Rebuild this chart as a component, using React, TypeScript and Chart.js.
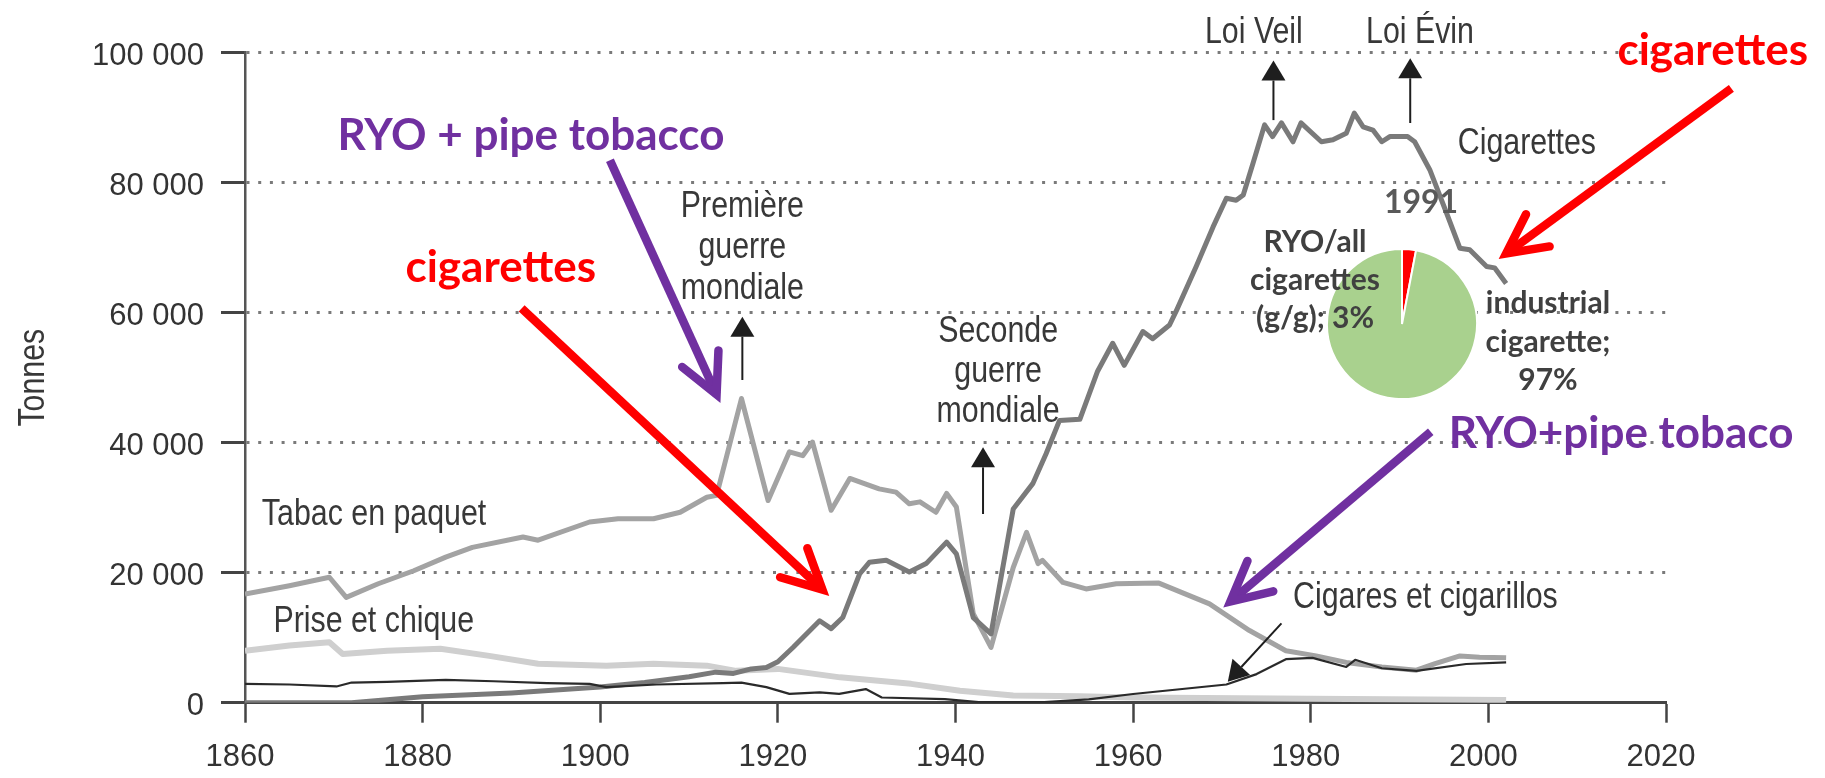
import React, { useEffect, useRef } from 'react';
import { Chart, registerables } from 'chart.js';

Chart.register(...registerables);

// ---------------- data ----------------
const xTickValues = [1860, 1880, 1900, 1920, 1940, 1960, 1980, 2000, 2020];
const xTickLabels = ['1860', '1880', '1900', '1920', '1940', '1960', '1980', '2000', '2020'];
const yTickValues = [0, 20000, 40000, 60000, 80000, 100000];
const yTickLabels = ['0', '20 000', '40 000', '60 000', '80 000', '100 000'];

const cigaretteYears = [1860, 1872, 1880, 1890, 1900, 1905, 1910, 1913, 1915, 1917, 1918.7, 1920, 1921.7, 1924.7, 1926, 1927.3, 1929.2, 1930.3, 1932.2, 1934.8, 1936.7, 1939, 1940.1, 1942, 1944, 1946.5, 1948.7, 1950.2, 1951.7, 1954, 1956, 1957.7, 1959, 1961.1, 1962.2, 1964.1, 1964.9, 1967.1, 1969, 1970.5, 1971.6, 1972.4, 1973.5, 1974.8, 1975.7, 1976.7, 1978, 1978.9, 1981.2, 1982.5, 1984, 1984.9, 1985.9, 1987, 1988, 1988.9, 1990.9, 1991.7, 1993.4, 1995.3, 1996.8, 1997.9, 1999.8, 2000.7, 2002];
const cigaretteTonnes = [0, 0, 900, 1500, 2400, 3100, 4000, 4700, 4500, 5200, 5400, 6300, 8500, 12600, 11400, 13100, 19800, 21600, 21900, 20100, 21400, 24700, 22900, 13100, 10600, 29800, 33700, 38300, 43400, 43600, 51000, 55300, 51900, 57100, 56000, 58100, 60400, 67100, 73200, 77600, 77300, 78100, 83000, 88900, 87100, 89200, 86300, 89200, 86300, 86600, 87600, 90700, 88600, 88100, 86300, 87100, 87100, 86300, 82000, 75300, 69900, 69700, 67100, 66900, 64500];

const tabacYears = [1860, 1865, 1869.5, 1871.4, 1875, 1879, 1882.6, 1885.6, 1891.3, 1893, 1898.8, 1902, 1906, 1909, 1912, 1913.1, 1915.9, 1918.9, 1921.3, 1922.8, 1923.9, 1926, 1928.1, 1931.4, 1933.3, 1934.8, 1936, 1937.8, 1939, 1940.1, 1942, 1944, 1946.5, 1948, 1949.3, 1949.8, 1952.1, 1954.7, 1958.1, 1962.9, 1968.6, 1973.1, 1977.2, 1980.6, 1984, 1988, 1991.9, 1994, 1996.8, 1999, 2002];
const tabacTonnes = [16700, 18000, 19300, 16200, 18300, 20300, 22400, 23900, 25500, 25000, 27800, 28300, 28300, 29300, 31600, 31900, 46800, 31100, 38600, 38000, 40100, 29600, 34500, 32900, 32400, 30600, 30900, 29300, 32200, 30100, 13700, 8500, 20800, 26200, 21400, 21900, 18500, 17500, 18300, 18400, 15200, 11100, 8000, 7200, 6200, 5500, 5000, 6000, 7200, 7000, 6900];

const priseYears = [1860, 1865, 1869.5, 1871, 1876, 1882, 1887.5, 1893, 1900.7, 1906, 1912, 1915.3, 1920, 1927, 1935, 1940.5, 1946.5, 1954, 1960, 1980, 2002];
const priseTonnes = [8000, 8800, 9300, 7500, 8000, 8300, 7200, 6000, 5700, 6000, 5700, 4900, 5200, 3900, 2900, 1850, 1100, 1000, 800, 600, 400];

const cigaresYears = [1860, 1865, 1870.3, 1872, 1876, 1882.6, 1888, 1894, 1898.8, 1900.7, 1906.3, 1913.8, 1915.9, 1918.7, 1921.3, 1924.7, 1926.9, 1929.9, 1931.7, 1938.8, 1942.6, 1950, 1955, 1960, 1970.5, 1973.9, 1977.2, 1980.2, 1984, 1985, 1988, 1991.9, 1997.5, 2002];
const cigaresTonnes = [2900, 2800, 2500, 3100, 3200, 3500, 3300, 3000, 2900, 2400, 2800, 3000, 3100, 2400, 1350, 1600, 1350, 2100, 800, 550, 100, 100, 500, 1340, 2800, 4400, 6700, 6900, 5500, 6600, 5300, 4900, 5950, 6200];

const pieYear = '1991';
const pieLabels = ['RYO/all cigarettes (g/g)', 'industrial cigarette'];
const pieShares = [3, 97];

// ---------------- styles / annotation anchors ----------------
const GRAY_FONT = '"Liberation Sans", Arial, sans-serif';
const NOTE_SIZE = 37;
const NOTE_SQUEEZE = 0.82; // horizontal condensing of the gray annotation text
const BOLD_FONT = 'Lato, "Open Sans", sans-serif';
const GRAY_TEXT = '#383838';
const PURPLE = '#7030a0';
const RED = '#ff0000';

const grayNotes = [
  { lines: ['Tabac en paquet'], year: 1861.9, tonnes: 27300, align: 'left', lh: 0 },
  { lines: ['Prise et chique'], year: 1863.2, tonnes: 10900, align: 'left', lh: 0 },
  { lines: ['Première', 'guerre', 'mondiale'], year: 1916.0, tonnes: 74700, align: 'center', lh: 41 },
  { lines: ['Seconde', 'guerre', 'mondiale'], year: 1944.8, tonnes: 55500, align: 'center', lh: 40 },
  { lines: ['Loi Veil'], year: 1973.6, tonnes: 101500, align: 'center', lh: 0 },
  { lines: ['Loi Évin'], year: 1992.3, tonnes: 101500, align: 'center', lh: 0 },
  { lines: ['Cigarettes'], year: 1996.55, tonnes: 84400, align: 'left', lh: 0 },
  { lines: ['Cigares et cigarillos'], year: 1978.0, tonnes: 14500, align: 'left', lh: 0 },
];

const blackArrows = [
  { fromYear: 1916.0, fromTonnes: 49650, toYear: 1916.0, toTonnes: 59380 },
  { fromYear: 1943.1, fromTonnes: 29030, toYear: 1943.1, toTonnes: 39290 },
  { fromYear: 1975.8, fromTonnes: 89630, toYear: 1975.8, toTonnes: 98800 },
  { fromYear: 1991.2, fromTonnes: 89180, toYear: 1991.2, toTonnes: 99140 },
  { fromYear: 1976.7, fromTonnes: 12215, toYear: 1970.66, toTonnes: 3230 },
];

const colorNotes = [
  { text: 'RYO + pipe tobacco', year: 1892.2, tonnes: 85030, color: PURPLE },
  { text: 'cigarettes', year: 1888.8, tonnes: 64770, color: RED },
  { text: 'cigarettes', year: 2025.26, tonnes: 98110, color: RED },
  { text: 'RYO+pipe tobaco', year: 2014.94, tonnes: 39140, color: PURPLE },
];

const colorArrows = [
  { fromYear: 1901.09, fromTonnes: 83470, toYear: 1913.47, toTonnes: 46310, color: PURPLE },
  { fromYear: 1891.15, fromTonnes: 60680, toYear: 1925.67, toTonnes: 16570, color: RED },
  { fromYear: 2027.36, fromTonnes: 94520, toYear: 2001.28, toTonnes: 68370, color: RED },
  { fromYear: 1993.51, fromTonnes: 41690, toYear: 1970.27, toTonnes: 14770, color: PURPLE },
];

const toPoints = (xs: number[], ys: number[]) => xs.map((x, i) => ({ x, y: ys[i] }));

function drawBlackArrow(ctx: CanvasRenderingContext2D, x1: number, y1: number, x2: number, y2: number) {
  const ang = Math.atan2(y2 - y1, x2 - x1);
  const headLen = 20;
  const half = 12;
  const bx = x2 - headLen * Math.cos(ang);
  const by = y2 - headLen * Math.sin(ang);
  ctx.strokeStyle = '#1e1e1e';
  ctx.lineWidth = 2;
  ctx.lineCap = 'butt';
  ctx.beginPath();
  ctx.moveTo(x1, y1);
  ctx.lineTo(bx, by);
  ctx.stroke();
  ctx.fillStyle = '#1e1e1e';
  ctx.beginPath();
  ctx.moveTo(x2, y2);
  ctx.lineTo(bx + half * Math.sin(ang), by - half * Math.cos(ang));
  ctx.lineTo(bx - half * Math.sin(ang), by + half * Math.cos(ang));
  ctx.closePath();
  ctx.fill();
}

function drawBoldArrow(ctx: CanvasRenderingContext2D, x1: number, y1: number, x2: number, y2: number, color: string) {
  const ang = Math.atan2(y2 - y1, x2 - x1);
  const w = 8.5;
  const back = 8;
  const jx = x2 - back * Math.cos(ang);
  const jy = y2 - back * Math.sin(ang);
  ctx.strokeStyle = color;
  ctx.lineWidth = w;
  ctx.lineCap = 'butt';
  ctx.beginPath();
  ctx.moveTo(x1, y1);
  ctx.lineTo(jx, jy);
  ctx.stroke();
  const L = 44;
  const spread = 0.47;
  const a1 = ang + Math.PI - spread;
  const a2 = ang + Math.PI + spread;
  ctx.lineJoin = 'miter';
  ctx.lineCap = 'round';
  ctx.beginPath();
  ctx.moveTo(jx + L * Math.cos(a1), jy + L * Math.sin(a1));
  ctx.lineTo(jx, jy);
  ctx.lineTo(jx + L * Math.cos(a2), jy + L * Math.sin(a2));
  ctx.stroke();
}

function fillSqueezed(ctx: CanvasRenderingContext2D, text: string, x: number, y: number) {
  ctx.save();
  ctx.scale(NOTE_SQUEEZE, 1);
  ctx.fillText(text, x / NOTE_SQUEEZE, y);
  ctx.restore();
}

const annotationPlugin = {
  id: 'annotations',
  afterDraw(chart: any) {
    const { ctx, chartArea } = chart;
    const xs = chart.scales.x;
    const ys = chart.scales.y;
    const px = (v: number) => xs.getPixelForValue(v);
    const py = (v: number) => ys.getPixelForValue(v);
    ctx.save();

    // y axis title
    ctx.save();
    ctx.translate(44, (chartArea.top + chartArea.bottom) / 2);
    ctx.rotate(-Math.PI / 2);
    ctx.font = `${NOTE_SIZE}px ${GRAY_FONT}`;
    ctx.fillStyle = GRAY_TEXT;
    ctx.textAlign = 'center';
    ctx.textBaseline = 'alphabetic';
    fillSqueezed(ctx, 'Tonnes', 0, 0);
    ctx.restore();

    // gray notes
    ctx.font = `${NOTE_SIZE}px ${GRAY_FONT}`;
    ctx.fillStyle = GRAY_TEXT;
    ctx.textBaseline = 'alphabetic';
    for (const n of grayNotes) {
      ctx.textAlign = n.align;
      n.lines.forEach((line, i) => fillSqueezed(ctx, line, px(n.year), py(n.tonnes) + i * n.lh));
    }

    for (const a of blackArrows) {
      drawBlackArrow(ctx, px(a.fromYear), py(a.fromTonnes), px(a.toYear), py(a.toTonnes));
    }

    for (const a of colorArrows) {
      drawBoldArrow(ctx, px(a.fromYear), py(a.fromTonnes), px(a.toYear), py(a.toTonnes), a.color);
    }

    ctx.font = `bold 44px ${BOLD_FONT}`;
    ctx.textAlign = 'center';
    ctx.textBaseline = 'alphabetic';
    for (const n of colorNotes) {
      ctx.fillStyle = n.color;
      ctx.fillText(n.text, px(n.year), py(n.tonnes));
    }
    ctx.restore();
  },
};

const pieLabelAnchors = [
  { dx: -87, dy: -72.3 },
  { dx: 146, dy: -10.7 },
];
const pctOwnLine = [false, true];

const pieLabelPlugin = {
  id: 'pieLabels',
  afterDraw(chart: any) {
    const { ctx } = chart;
    const arc = chart.getDatasetMeta(0).data[0];
    const cx = arc.x;
    const cy = arc.y;
    ctx.save();
    ctx.textAlign = 'center';
    ctx.textBaseline = 'alphabetic';
    ctx.font = `bold 32px ${BOLD_FONT}`;
    ctx.fillStyle = '#595959';
    ctx.fillText(pieYear, cx + 19, cy - 110.7);
    ctx.font = `bold 30px ${BOLD_FONT}`;
    ctx.fillStyle = '#404040';
    pieLabels.forEach((label, i) => {
      const lines = label.split(' ');
      if (pctOwnLine[i]) {
        lines[lines.length - 1] += ';';
        lines.push(`${pieShares[i]}%`);
      } else {
        lines[lines.length - 1] += `; ${pieShares[i]}%`;
      }
      const a = pieLabelAnchors[i];
      lines.forEach((line, k) => ctx.fillText(line, cx + a.dx, cy + a.dy + k * 38.3));
    });
    ctx.restore();
  },
};

export default function App() {
  const mainRef = useRef<HTMLCanvasElement>(null);
  const pieRef = useRef<HTMLCanvasElement>(null);

  useEffect(() => {
    const tickFont = { family: GRAY_FONT, size: 31 };
    const main = new Chart(mainRef.current as HTMLCanvasElement, {
      type: 'line',
      data: {
        datasets: [
          { label: 'Cigares et cigarillos', data: toPoints(cigaresYears, cigaresTonnes), borderColor: '#2a2a2a', borderWidth: 2.2 },
          { label: 'Cigarettes', data: toPoints(cigaretteYears, cigaretteTonnes), borderColor: '#7a7a7a', borderWidth: 5 },
          { label: 'Tabac en paquet', data: toPoints(tabacYears, tabacTonnes), borderColor: '#a3a3a3', borderWidth: 5 },
          { label: 'Prise et chique', data: toPoints(priseYears, priseTonnes), borderColor: '#cfcfcf', borderWidth: 6 },
        ],
      },
      options: {
        animation: false,
        responsive: false,
        events: [],
        layout: { padding: { left: 0, top: 52.7, right: 159, bottom: 0 } },
        plugins: { legend: { display: false }, tooltip: { enabled: false } },
        elements: {
          point: { radius: 0 },
          line: { tension: 0, borderJoinStyle: 'round', borderCapStyle: 'butt' },
        },
        scales: {
          x: {
            type: 'linear',
            min: 1860,
            max: 2020,
            afterBuildTicks: (s: any) => { s.ticks = xTickValues.map((v) => ({ value: v })); },
            afterFit: (s: any) => { s.height = 778 - 702.7; },
            ticks: {
              callback: (v: any) => xTickLabels[xTickValues.indexOf(Number(v))],
              color: '#333',
              font: tickFont,
              padding: 16,
              labelOffset: -5,
              maxRotation: 0,
              autoSkip: false,
            },
            grid: { display: true, drawOnChartArea: false, drawTicks: true, tickLength: 20, tickColor: '#444', tickWidth: 2.5 },
            border: { display: true, color: '#444', width: 3 },
          },
          y: {
            type: 'linear',
            min: 0,
            max: 100000,
            afterBuildTicks: (s: any) => { s.ticks = yTickValues.map((v) => ({ value: v })); },
            afterFit: (s: any) => { s.width = 245; },
            ticks: {
              callback: (v: any) => yTickLabels[yTickValues.indexOf(Number(v))],
              color: '#333',
              font: tickFont,
              padding: 17,
              labelOffset: 4,
            },
            grid: {
              color: (c: any) => (c.tick && c.tick.value === 0 ? 'rgba(0,0,0,0)' : '#7a7a7a'),
              lineWidth: 3,
              drawTicks: true,
              tickLength: 24,
              tickColor: '#444',
              tickWidth: 3,
            },
            border: { display: true, color: '#555', width: 2.5, dash: [3, 8.7] },
          },
        },
      } as any,
      plugins: [annotationPlugin],
    });

    const pie = new Chart(pieRef.current as HTMLCanvasElement, {
      type: 'pie',
      data: {
        labels: pieLabels,
        datasets: [{ data: pieShares, backgroundColor: [RED, '#a9d18e'], borderColor: '#ffffff', borderWidth: 2 }],
      },
      options: {
        animation: false,
        responsive: false,
        events: [],
        layout: { padding: { left: 1326, top: 248, right: 347, bottom: 378 } },
        plugins: { legend: { display: false }, tooltip: { enabled: false } },
      } as any,
      plugins: [pieLabelPlugin],
    });

    return () => {
      main.destroy();
      pie.destroy();
    };
  }, []);

  return (
    <div style={{ position: 'fixed', left: 0, top: 0, width: 1825, height: 778, background: '#ffffff' }}>
      <canvas ref={mainRef} width={1825} height={778} style={{ position: 'absolute', left: 0, top: 0 }} />
      <canvas ref={pieRef} width={1825} height={778} style={{ position: 'absolute', left: 0, top: 0, pointerEvents: 'none' }} />
    </div>
  );
}
